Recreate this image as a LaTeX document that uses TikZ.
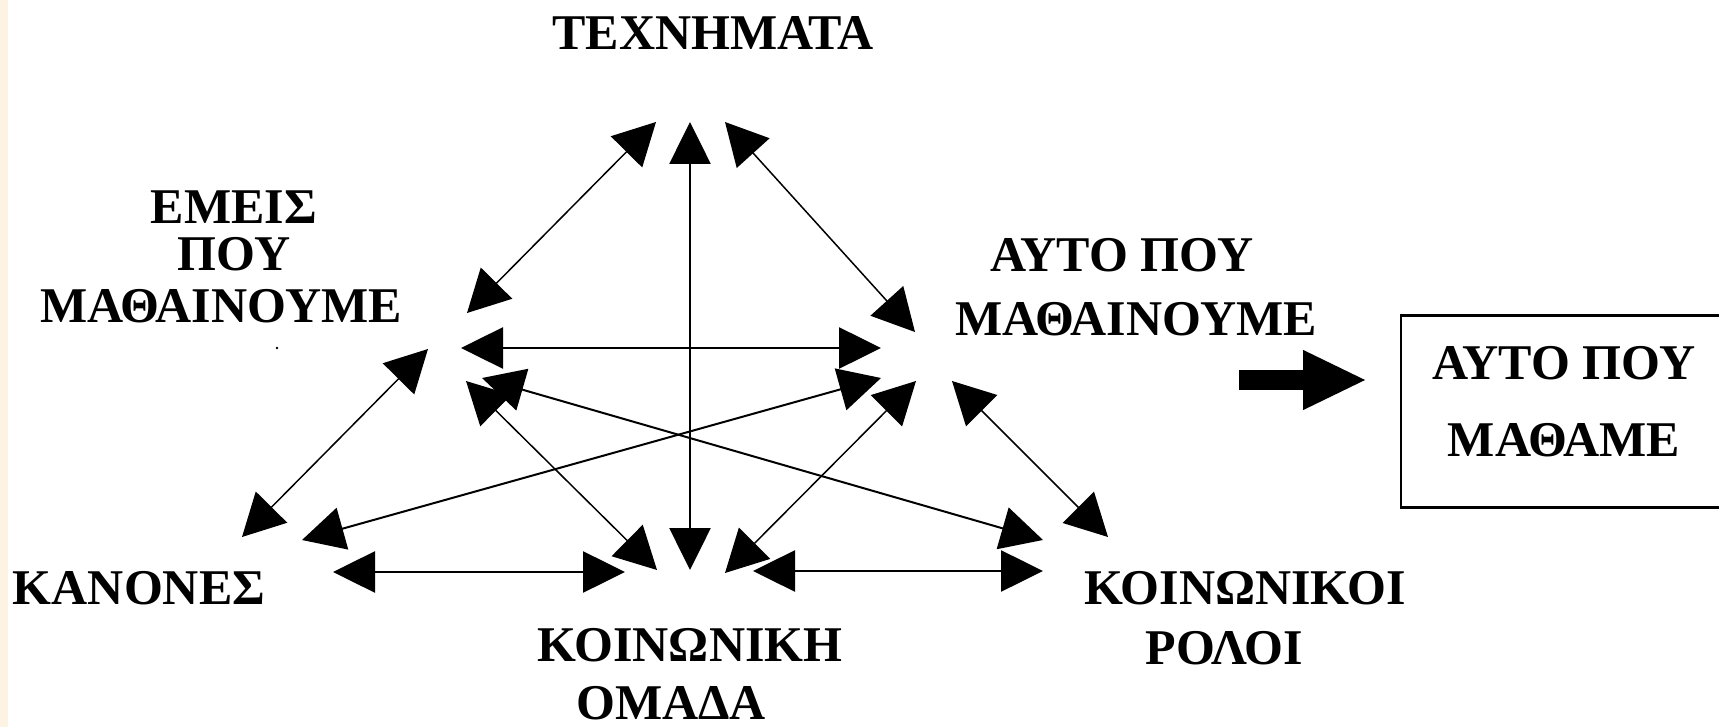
\documentclass[tikz,border=0pt]{standalone}
\usepackage{fontspec}
\setmainfont{Liberation Serif}
\usetikzlibrary{arrows.meta}
\definecolor{cream}{RGB}{253,243,226}
\tikzset{
  lbl/.style={inner sep=0pt, font=\fontsize{50}{60}\selectfont\bfseries},
  bithick/.style={{Triangle[length=42pt,width=41pt]}-{Triangle[length=42pt,width=41pt]}, line width=2.6pt},
  bimid/.style={{Triangle[length=42pt,width=43pt]}-{Triangle[length=42pt,width=43pt]}, line width=2pt},
  bithin/.style={{Triangle[length=42pt,width=44pt]}-{Triangle[length=42pt,width=44pt]}, line width=1.5pt},
  blockarrow/.style={line width=20pt, -{Triangle[length=64pt,width=55pt]}},
  framebox/.style={draw, line width=2.7pt}
}
\begin{document}
\begin{tikzpicture}[x=1pt,y=-1pt]
\useasboundingbox (0,0) rectangle (1719,727);
\fill[white] (0,0) rectangle (1719,727);
\fill[cream] (0,0) rectangle (8,727);

% labels
\node[lbl] (tex) at (713,33) {ΤΕΧΝΗΜΑΤΑ};
\node[lbl] (emeis1) at (234,207) {ΕΜΕΙΣ};
\node[lbl] (emeis2) at (234,254) {ΠΟΥ};
\node[lbl] (emeis3) at (221,306) {ΜΑΘΑΙΝΟΥΜΕ};
\fill (277,348) circle (1.3);
\node[lbl] (auto1) at (1122,255) {ΑΥΤΟ ΠΟΥ};
\node[lbl] (auto2) at (1136,319) {ΜΑΘΑΙΝΟΥΜΕ};
\node[lbl] (kan) at (139,588) {ΚΑΝΟΝΕΣ};
\node[lbl] (koinh1) at (690,645) {ΚΟΙΝΩΝΙΚΗ};
\node[lbl] (koinh2) at (671,703) {ΟΜΑΔΑ};
\node[lbl] (koinoi1) at (1245,588) {ΚΟΙΝΩΝΙΚΟΙ};
\node[lbl] (koinoi2) at (1224,648) {ΡΟΛΟΙ};

% box
\draw[framebox] (1401,315.5) rectangle (1732,507.5);
\node[lbl] (mathame1) at (1564,363) {ΑΥΤΟ ΠΟΥ};
\node[lbl] (mathame2) at (1564,440) {ΜΑΘΑΜΕ};

% connector end points
\coordinate (vT) at (690,122);   \coordinate (vB) at (690,570);
\coordinate (hUL) at (461,348);  \coordinate (hUR) at (881,348);
\coordinate (hLL1) at (333,572); \coordinate (hLL2) at (625,572);
\coordinate (hLR1) at (753,571); \coordinate (hLR2) at (1043,571);
\coordinate (d1a) at (656,122);  \coordinate (d1b) at (467,313);
\coordinate (d2a) at (725,122);  \coordinate (d2b) at (915,332);
\coordinate (d3a) at (428,349);  \coordinate (d3b) at (242,537);
\coordinate (d4a) at (466,381);  \coordinate (d4b) at (657,570);
\coordinate (d5a) at (916,381);  \coordinate (d5b) at (725,573);
\coordinate (d6a) at (952,381);  \coordinate (d6b) at (1108,537);
\coordinate (c1a) at (482,378);  \coordinate (c1b) at (1043,540);
\coordinate (c2a) at (881,378);  \coordinate (c2b) at (302,540);
\coordinate (ba1) at (1239,380); \coordinate (ba2) at (1367,380);

% connectors
\draw[bithick] (vT) -- (vB);
\draw[bithick] (hUL) -- (hUR);
\draw[bithick] (hLL1) -- (hLL2);
\draw[bithick] (hLR1) -- (hLR2);
\draw[bithin] (d1a) -- (d1b);
\draw[bithin] (d2a) -- (d2b);
\draw[bithin] (d3a) -- (d3b);
\draw[bithin] (d4a) -- (d4b);
\draw[bithin] (d5a) -- (d5b);
\draw[bithin] (d6a) -- (d6b);
\draw[bimid] (c1a) -- (c1b);
\draw[bimid] (c2a) -- (c2b);
\draw[blockarrow] (ba1) -- (ba2);
\end{tikzpicture}
\end{document}
